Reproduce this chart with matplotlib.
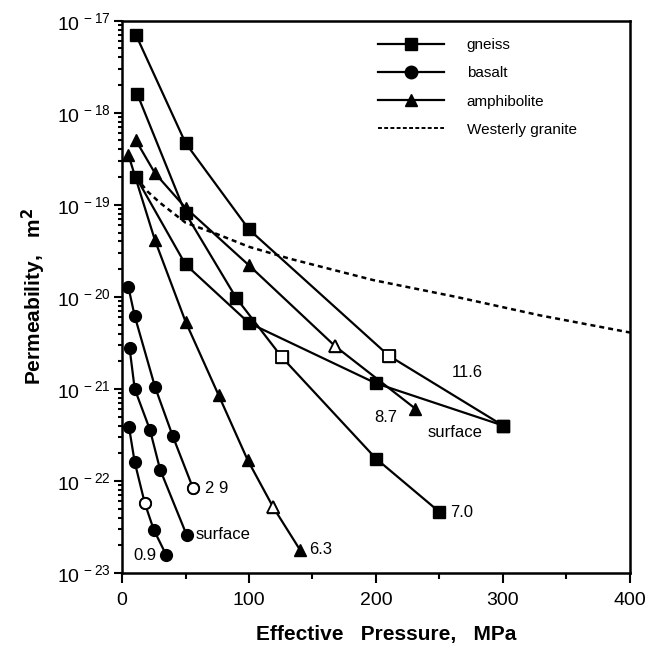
import matplotlib
matplotlib.use("Agg")
import matplotlib.pyplot as plt
from matplotlib.lines import Line2D
from matplotlib.ticker import LogLocator, MultipleLocator, NullFormatter

plt.rcParams['font.family'] = ['Liberation Sans', 'DejaVu Sans']
plt.rcParams['mathtext.default'] = 'regular'

# gneiss (squares)
gneiss_116_p = [11, 50, 100, 210, 300]
gneiss_116_k = [7.0e-18, 4.7e-19, 5.4e-20, 2.3e-21, 4.0e-22]
gneiss_116_open = [3]
gneiss_70_p = [12, 50, 90, 126, 200, 250]
gneiss_70_k = [1.6e-18, 8.1e-20, 9.7e-21, 2.2e-21, 1.75e-22, 4.6e-23]
gneiss_70_open = [3]
gneiss_surf_p = [11, 50, 100, 200, 300]
gneiss_surf_k = [2.0e-19, 2.25e-20, 5.2e-21, 1.15e-21, 4.0e-22]
gneiss_surf_open = []

# amphibolite (triangles)
amph_63_p = [5, 26, 50, 76, 99, 119, 140]
amph_63_k = [3.5e-19, 4.1e-20, 5.4e-21, 8.6e-22, 1.68e-22, 5.2e-23, 1.8e-23]
amph_63_open = [5]
amph_87_p = [11, 26, 50, 100, 168, 231]
amph_87_k = [5.0e-19, 2.2e-19, 9.3e-20, 2.2e-20, 2.9e-21, 6.1e-22]
amph_87_open = [4]

# basalt (circles)
basalt_29_p = [5, 10, 26, 40, 56]
basalt_29_k = [1.28e-20, 6.2e-21, 1.05e-21, 3.06e-22, 8.3e-23]
basalt_29_open = [4]
basalt_surf_p = [6, 10, 22, 30, 51]
basalt_surf_k = [2.75e-21, 1.0e-21, 3.6e-22, 1.33e-22, 2.57e-23]
basalt_surf_open = []
basalt_09_p = [5.5, 10, 18, 25, 35]
basalt_09_k = [3.86e-22, 1.6e-22, 5.7e-23, 2.95e-23, 1.55e-23]
basalt_09_open = [2]

# Westerly granite (dashed)
granite_p = [11, 20, 30, 50, 75, 100, 132, 198, 263, 329, 400]
granite_k = [2.0e-19, 1.4e-19, 1.05e-19, 6.4e-20, 4.8e-20, 3.5e-20, 2.6e-20,
             1.52e-20, 1.0e-20, 6.3e-21, 4.1e-21]

# curve labels: text, pressure, permeability
labels_txt = ['11.6', '7.0', 'surface', '8.7', '6.3', '2 9', 'surface', '0.9']
labels_p = [260, 258, 241, 199, 147, 65, 58, 9]
labels_k = [1.5e-21, 4.6e-23, 3.4e-22, 4.9e-22, 1.8e-23, 8.3e-23, 2.6e-23, 1.55e-23]

x_ticks = [0, 100, 200, 300, 400]
y_exps = [-23, -22, -21, -20, -19, -18, -17]

fig = plt.figure(figsize=(6.5, 6.56), dpi=100)
ax = fig.add_axes([0.1877, 0.1265, 0.7815, 0.8419])


def draw(p, k, marker, ms, hollow):
    ax.plot(p, k, color='k', lw=1.6, marker=marker, ms=ms,
            mfc='k', mec='k', zorder=3)
    for i in hollow:
        ax.plot(p[i], k[i], marker=marker, ms=ms - 0.5, mfc='white',
                mec='k', mew=1.3, ls='none', zorder=4)


ax.plot(granite_p, granite_k, color='k', lw=1.8, ls=(0, (2.0, 1.6)), zorder=2)

draw(gneiss_116_p, gneiss_116_k, 's', 9, gneiss_116_open)
draw(gneiss_70_p, gneiss_70_k, 's', 9, gneiss_70_open)
draw(gneiss_surf_p, gneiss_surf_k, 's', 9, gneiss_surf_open)
draw(amph_63_p, amph_63_k, '^', 9, amph_63_open)
draw(amph_87_p, amph_87_k, '^', 9, amph_87_open)
draw(basalt_29_p, basalt_29_k, 'o', 8.5, basalt_29_open)
draw(basalt_surf_p, basalt_surf_k, 'o', 8.5, basalt_surf_open)
draw(basalt_09_p, basalt_09_k, 'o', 8.5, basalt_09_open)

for t, p, k in zip(labels_txt, labels_p, labels_k):
    ax.text(p, k, t, fontsize=12, ha='left', va='center')

ax.set_yscale('log')
ax.set_xlim(0, 400)
ax.set_ylim(1e-23, 1e-17)

ax.xaxis.set_major_locator(MultipleLocator(100))
ax.xaxis.set_minor_locator(MultipleLocator(50))
ax.set_xticks(x_ticks)
ax.set_xticklabels([str(v) for v in x_ticks])
ax.set_yticks([10.0 ** e for e in y_exps])
ax.set_yticklabels([r'$10^{\,%d}$' % e for e in y_exps])
ax.yaxis.set_minor_locator(LogLocator(base=10, subs=range(2, 10), numticks=20))
ax.yaxis.set_minor_formatter(NullFormatter())

ax.tick_params(which='both', direction='out', width=1.5, top=False, right=False)
ax.tick_params(axis='x', which='major', length=7, labelsize=14, pad=7)
ax.tick_params(axis='x', which='minor', length=4)
ax.tick_params(axis='y', which='major', length=6, labelsize=14, pad=2)
ax.tick_params(axis='y', which='minor', length=3)
for s in ax.spines.values():
    s.set_linewidth(1.8)

ax.set_xlabel('Effective   Pressure,   MPa', fontsize=15, fontweight='bold')
ax.xaxis.set_label_coords(0.52, -0.095)
ax.set_ylabel('Permeability,   m$^{\\bf 2}$', fontsize=15, fontweight='bold')
ax.yaxis.set_label_coords(-0.145, 0.5)

handles = [
    Line2D([], [], color='k', lw=1.6, marker='s', ms=9),
    Line2D([], [], color='k', lw=1.6, marker='o', ms=9),
    Line2D([], [], color='k', lw=1.6, marker='^', ms=9),
    Line2D([], [], color='k', lw=1.4, ls=(0, (2.0, 1.2))),
]
ax.legend(handles, ['gneiss', 'basalt', 'amphibolite', 'Westerly granite'],
          loc='upper left', bbox_to_anchor=(0.504, 0.968), frameon=False,
          fontsize=11, numpoints=1, handlelength=4.3, handletextpad=1.5,
          labelspacing=0.92, borderpad=0, borderaxespad=0)

fig.savefig('out.png', dpi=100)
